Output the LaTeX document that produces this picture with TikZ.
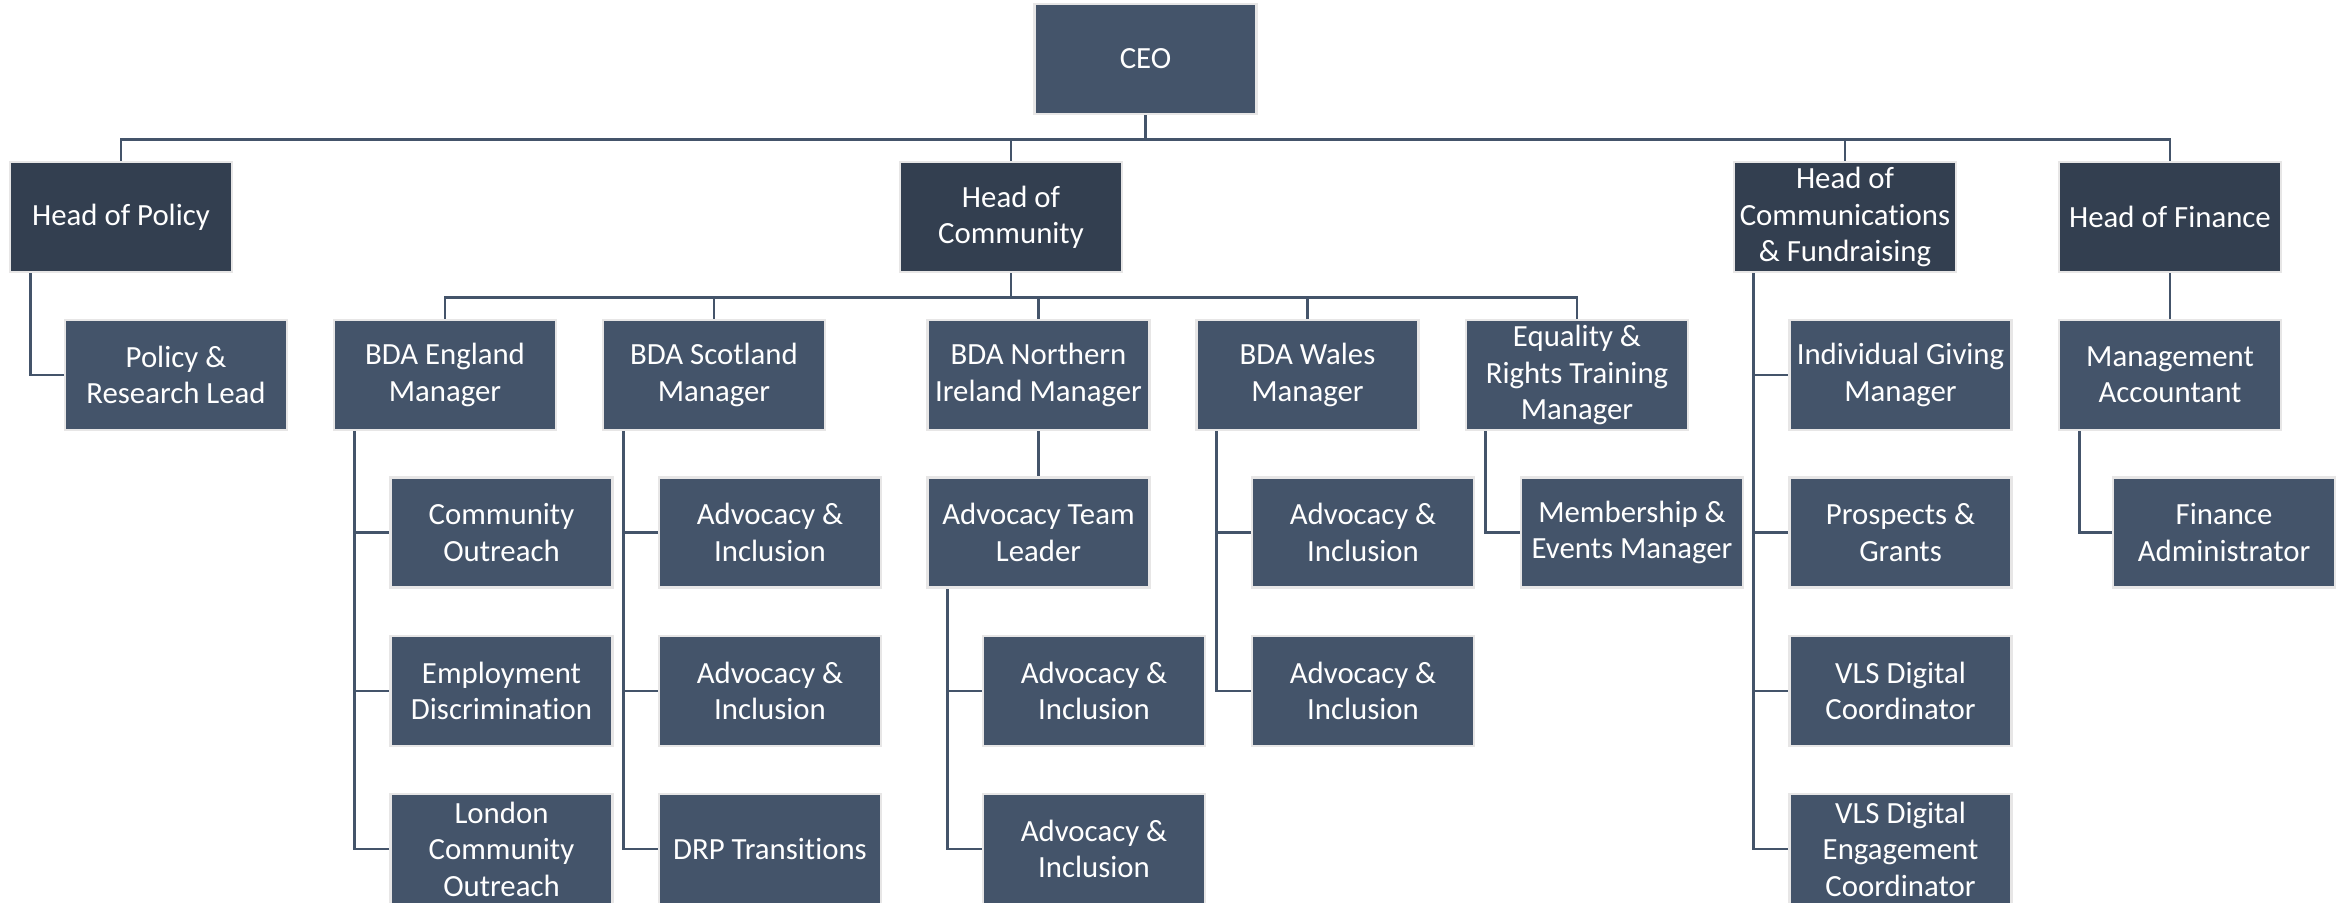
\documentclass[tikz,border=0pt]{standalone}
\usepackage{fontspec}
\setmainfont[Ligatures=NoCommon]{Carlito}
\usetikzlibrary{backgrounds}
\definecolor{postblue}{HTML}{44546A}
\definecolor{headblue}{HTML}{333F50}
\definecolor{postrim}{HTML}{E7E6E6}
\definecolor{linkblue}{HTML}{44546A}

\begin{document}
\begin{tikzpicture}[x=0.5pt,y=-0.5pt,
    post/.style={rectangle,fill=postblue,draw=postrim,line width=1.2pt,
      minimum width=111pt,minimum height=55pt,inner xsep=1pt,inner ysep=0pt,
      text=white,align=center,font=\fontsize{15.4}{18.2}\selectfont},
    head/.style={post,fill=headblue},
    link/.style={draw=linkblue,line width=1.4pt}]
  \useasboundingbox (0,0) rectangle (2343,902);

  % top
  \node[post] (ceo) at (1145.5,59) {CEO};
  \node[head] (hpol) at (121,217) {Head of Policy};
  \node[head] (hcom) at (1011,217) {Head of\\Community};
  \node[head] (hcf) at (1845,217) {Head of\\Communications\\\& Fundraising};
  \node[head] (hfin) at (2170,217) {Head of Finance};

  % managers
  \node[post] (plead) at (176,375) {Policy \&\\Research Lead};
  \node[post] (eng) at (445,375) {BDA England\\Manager};
  \node[post] (sco) at (714,375) {BDA Scotland\\Manager};
  \node[post] (nir) at (1038.5,375) {BDA Northern\\Ireland Manager};
  \node[post] (wal) at (1307.5,375) {BDA Wales\\Manager};
  \node[post] (eqr) at (1577,375) {Equality \&\\Rights Training\\Manager};
  \node[post] (igm) at (1900.5,375) {Individual Giving\\Manager};
  \node[post] (macc) at (2170,375) {Management\\Accountant};

  % teams
  \node[post] (cout) at (501.5,532.5) {Community\\Outreach};
  \node[post] (emp) at (501.5,691) {Employment\\Discrimination};
  \node[post] (lco) at (501.5,849) {London\\Community\\Outreach};
  \node[post] (sai1) at (770,532.5) {Advocacy \&\\Inclusion};
  \node[post] (sai2) at (770,691) {Advocacy \&\\Inclusion};
  \node[post] (drp) at (770,849) {DRP Transitions};
  \node[post] (atl) at (1038.5,532.5) {Advocacy Team\\Leader};
  \node[post] (aai1) at (1094,691) {Advocacy \&\\Inclusion};
  \node[post] (aai2) at (1094,849) {Advocacy \&\\Inclusion};
  \node[post] (wai1) at (1363,532.5) {Advocacy \&\\Inclusion};
  \node[post] (wai2) at (1363,691) {Advocacy \&\\Inclusion};
  \node[post] (mem) at (1632,532.5) {Membership \&\\Events Manager};
  \node[post] (pros) at (1900.5,532.5) {Prospects \&\\Grants};
  \node[post] (vdc) at (1900.5,691) {VLS Digital\\Coordinator};
  \node[post] (vdec) at (1900.5,849) {VLS Digital\\Engagement\\Coordinator};
  \node[post] (fadm) at (2224,532.5) {Finance\\Administrator};

  \begin{pgfonlayer}{background}
    \fill[white] (0,0) rectangle (2343,902);
    \foreach \h in {hpol,hcom,hcf,hfin}
      \draw[link] (ceo.south) -- ++(0,24) -| (\h.north);
    \foreach \m in {eng,sco,nir,wal,eqr}
      \draw[link] (hcom.south) -- ++(0,24) -| (\m.north);
    \draw[link] (nir.south) -- (atl.north);
    \draw[link] (hfin.south) -- (macc.north);
    % side branches
    \draw[link] (hpol.south west) ++(21.5,0) |- (plead.west);
    \foreach \c in {cout,emp,lco}
      \draw[link] (eng.south west) ++(22,0) |- (\c.west);
    \foreach \c in {sai1,sai2,drp}
      \draw[link] (sco.south west) ++(21.5,0) |- (\c.west);
    \foreach \c in {aai1,aai2}
      \draw[link] (atl.south west) ++(21.5,0) |- (\c.west);
    \foreach \c in {wai1,wai2}
      \draw[link] (wal.south west) ++(21,0) |- (\c.west);
    \draw[link] (eqr.south west) ++(20.5,0) |- (mem.west);
    \foreach \c in {igm,pros,vdc,vdec}
      \draw[link] (hcf.south west) ++(21,0) |- (\c.west);
    \draw[link] (macc.south west) ++(21.5,0) |- (fadm.west);
  \end{pgfonlayer}
\end{tikzpicture}
\end{document}
